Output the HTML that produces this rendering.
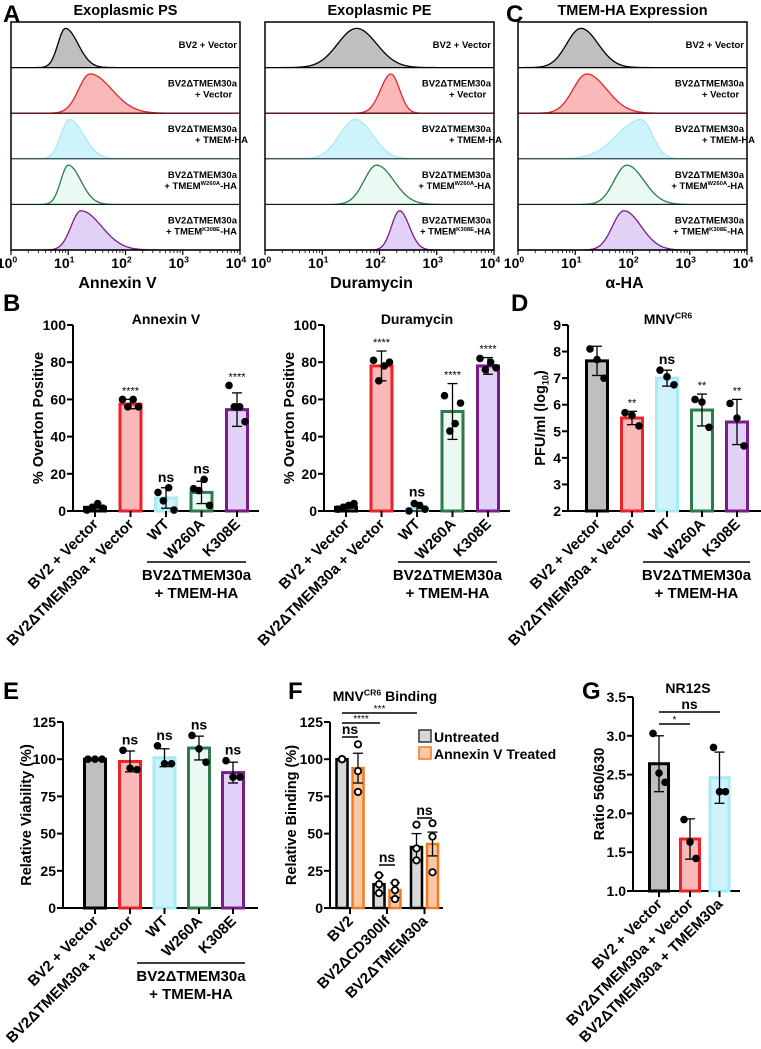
<!DOCTYPE html>
<html><head><meta charset="utf-8"><style>
html,body{margin:0;padding:0;background:#fff;}
svg{display:block;font-family:"Liberation Sans",Arial,sans-serif;font-weight:bold;}
</style></head><body>
<svg id="fig" width="761" height="1049" viewBox="0 0 761 1049" xmlns="http://www.w3.org/2000/svg"></svg>
<script>
// ---------- DATA ----------
const histRowLabels = [["BV2 + Vector"],["BV2\u0394TMEM30a","+ Vector"],["BV2\u0394TMEM30a","+ TMEM-HA"],["BV2\u0394TMEM30a","+ TMEM|W260A|-HA"],["BV2\u0394TMEM30a","+ TMEM|K308E|-HA"]];
const histTitles = ["Exoplasmic PS","Exoplasmic PE","TMEM-HA Expression"];
const histAxisTitles = ["Annexin V","Duramycin","\u03B1-HA"];
const histPS = [[0.95,0.13,0.22],[1.38,0.2,0.38],[1.02,0.15,0.25],[1.0,0.13,0.22],[1.22,0.17,0.36]];
const histPE = [[1.6,0.33,0.35],[2.2,0.18,0.15],[1.58,0.28,0.3],[1.95,0.22,0.3],[2.35,0.14,0.17]];
const histHA = [[1.1,0.25,0.3],[1.2,0.24,0.35],[2.15,0.42,0.2],[1.9,0.22,0.3],[1.85,0.2,0.3]];

const catsMain = ["BV2 + Vector","BV2\u0394TMEM30a + Vector","WT","W260A","K308E"];
const annexMeans = [2,57.5,7,10,54.5];
const annexSD = [1.5,2.5,5.5,6,9];
const annexPts = [[0.5,4,2,1.5],[60,60,56,56],[10,12.5,5.5,0.5],[12,17,11,3],[67.5,56,56,48]];
const annexSig = ["","****","ns","ns","****"];
const duraMeans = [2,78,1.5,53.5,78];
const duraSD = [1.5,8,3,15,4.5];
const duraPts = [[1,3,2,4],[81,78,70,80],[0,3,4,1],[62,47,43,58],[82,80,76,77]];
const duraSig = ["","****","ns","****","****"];
const pfuMeans = [7.65,5.5,7.0,5.8,5.35];
const pfuSD = [0.55,0.25,0.3,0.6,0.85];
const pfuPts = [[8.1,7.7,7.0],[5.7,5.6,5.2],[7.3,7.05,6.75],[6.2,6.1,5.15],[6.05,5.5,4.45]];
const pfuSig = ["","**","ns","**","**"];
const viaMeans = [100,98.5,101,107.5,91];
const viaSD = [0,7,6,8,7];
const viaPts = [[100,100,100],[106,94,93],[109,97,97],[116,107,98],[99,88,88]];
const viaSig = ["","ns","ns","ns","ns"];
const bindCats = ["BV2","BV2\u0394CD300lf","BV2\u0394TMEM30a"];
const bindUntreated = [100,16,41];
const bindUntreatedSD = [0,6,9];
const bindTreated = [94,12,43];
const bindTreatedSD = [10,5,8];
const bindUntreatedPts = [[100,100,100],[22,16,10],[56,40,32]];
const bindTreatedPts = [[110,92,78],[17,12,6],[57,48,24]];
const nrCats = ["BV2 + Vector","BV2\u0394TMEM30a + Vector","BV2\u0394TMEM30a + TMEM30a"];
const nrMeans = [2.64,1.67,2.46];
const nrSD = [0.36,0.26,0.33];
const nrPts = [[3.03,2.52,2.4],[1.92,1.63,1.42],[2.85,2.28,2.28]];

// ---------- HELPERS ----------
const NS="http://www.w3.org/2000/svg";
const svg=document.getElementById('fig');
function el(tag,attrs,parent,txt){const e=document.createElementNS(NS,tag);for(const k in attrs)e.setAttribute(k,attrs[k]);if(txt!==undefined)e.textContent=txt;(parent||svg).appendChild(e);return e;}
function grp(name){const g=el('g',{});return g;}
const COL={gray:['#bfbfbf','#000'],red:['#f9b9b9','#e8242a'],cyan:['#cff3fb','#a6ebf6'],green:['#eafaf2','#2e7a4a'],purple:['#e2d1f7','#7a1b8c'],orange:['#fbc7a5','#f07a22'],lgray:['#d8d8d8','#000']};
const rowCols=['gray','red','cyan','green','purple'];

function panelLetter(t,x,y){const e=el('text',{x:x,y:y,'font-size':24},svg,t);}
function supText(parent,x,y,parts,size,anchor,sub){
  const t=el('text',{x:x,y:y,'font-size':size,'text-anchor':anchor||'start'},parent);
  const p=parts.split('|');
  const sh=sub?size*0.25:-size*0.38;
  p.forEach((s,i)=>{if(!s)return;el('tspan',i%2?{'font-size':size*0.62,dy:sh}:(i>0?{dy:-sh}:{}),t,s);});
  return t;
}

// ---------- PANEL A / C ----------
panelLetter('A',3,22);panelLetter('C',506,22);
const hLeft=[11,265,518], hW=229, hTop=22, rowH=45.6;
const histSets=[histPS,histPE,histHA];
histSets.forEach((set,pi)=>{
  const g=grp('histogram-panel-'+(pi+1));
  const L=hLeft[pi];
  const xs=v=>L+v/4*hW;
  const tt=el('text',{x:L+hW/2,y:15,'font-size':14.5,'text-anchor':'middle'},g,histTitles[pi]);
  
  set.forEach((p,ri)=>{
    const base=hTop+(ri+1)*rowH, c=COL[rowCols[ri]];
    const hgt=rowH*0.86;
    let d='M'+L+','+base;
    for(let px=0;px<=hW;px+=1){const v=px/hW*4;const s=v<p[0]?p[1]:p[2];let y=Math.exp(-0.5*Math.pow((v-p[0])/s,2));d+=' L'+(L+px)+','+(base-y*hgt).toFixed(2);}
    d+=' L'+(L+hW)+','+base+' Z';
    const pa=el('path',{d:d,fill:c[0],stroke:c[1],'stroke-width':1.3},g);
    
    if(ri<4)el('line',{x1:L,x2:L+hW,y1:base,y2:base,stroke:'#000','stroke-width':0.8},g);
    const lab=histRowLabels[ri];
    if(lab.length===1){const t=el('text',{x:L+hW-3,y:hTop+ri*rowH+26,'font-size':9.5,'text-anchor':'end'},g,lab[0]);}
    else{const t=el('text',{x:L+hW-3,y:hTop+ri*rowH+19,'font-size':9.5,'text-anchor':'end'},g,lab[0]);
      const t2=supText(g,L+hW-(ri>=3?3:45),hTop+ri*rowH+30,lab[1],9.5,ri>=3?'end':'start');}
  });
  el('rect',{x:L,y:hTop,width:hW,height:5*rowH,fill:'none',stroke:'#000','stroke-width':1.5},g);
  for(let dec=0;dec<=4;dec++){
    el('line',{x1:xs(dec),x2:xs(dec),y1:hTop+5*rowH,y2:hTop+5*rowH+5,stroke:'#000','stroke-width':1.2},g);
    if(dec<4)for(let k=2;k<10;k++){const xx=xs(dec+Math.log10(k));el('line',{x1:xx,x2:xx,y1:hTop+5*rowH,y2:hTop+5*rowH+3,stroke:'#000','stroke-width':0.8},g);}
    const t=supText(g,xs(dec)-4,hTop+5*rowH+18,'10|'+dec,14,'middle');
  }
  const at=el('text',{x:L+hW/2-8,y:288,'font-size':16,'text-anchor':'middle'},g,histAxisTitles[pi]);
  
});

// ---------- BAR CHART HELPER ----------
function barChart(o){
  const g=grp(o.name);
  const ys=v=>o.y0-(v-o.ymin)/(o.ymax-o.ymin)*(o.y0-o.y1);
  el('line',{x1:o.ax,x2:o.ax,y1:o.y1,y2:o.y0,stroke:'#000','stroke-width':2},g);
  el('line',{x1:o.ax-1,x2:o.axEnd,y1:o.y0,y2:o.y0,stroke:'#000','stroke-width':2},g);
  o.ticks.forEach(tv=>{el('line',{x1:o.ax-6,x2:o.ax,y1:ys(tv),y2:ys(tv),stroke:'#000','stroke-width':2},g);
    const t=el('text',{x:o.ax-7,y:ys(tv)+5,'font-size':14,'text-anchor':'end'},g,o.tickFmt?o.tickFmt(tv):String(tv));});
  const yt=supText(g,0,0,o.ytitle,14.5,'middle',o.ysub);yt.setAttribute('transform','translate('+o.ytx+','+((o.y0+o.y1)/2)+') rotate(-90)');
  
  if(o.title){const t=supText(g,o.titleX,o.titleY,o.title,14,'middle');}
  o.bars.forEach((b,i)=>{
    const c=COL[b.col];const top=ys(b.mean);
    const r=el('rect',{x:b.x-o.bw/2,y:top,width:o.bw,height:o.y0-top,fill:c[0],stroke:c[1],'stroke-width':o.sw||3},g);
    
    if(b.sd>0){const eh=ys(b.mean+b.sd),el2=ys(Math.max(o.ymin,b.mean-b.sd));
      el('line',{x1:b.x,x2:b.x,y1:eh,y2:el2,stroke:'#000','stroke-width':1.3},g);
      el('line',{x1:b.x-5,x2:b.x+5,y1:eh,y2:eh,stroke:'#000','stroke-width':1.3},g);
      el('line',{x1:b.x-5,x2:b.x+5,y1:el2,y2:el2,stroke:'#000','stroke-width':1.3},g);}
    const n=b.pts.length;
    b.pts.forEach((pv,j)=>{const off=n>1?(-o.spread+2*o.spread*j/(n-1)):0;
      const ord=[0,2,1,3];const oj=n===4?(-o.spread+2*o.spread*ord[j]/3):off;
      const cc=el('circle',{cx:b.x+oj,cy:ys(pv),r:o.hollow?3.2:3.8,fill:o.hollow?'#fff':'#000',stroke:'#000','stroke-width':o.hollow?1.8:0},g);
      });
    if(b.sig){const big=b.sig==='ns';const top2=Math.min(ys(b.mean+b.sd),Math.min(...b.pts.map(ys)));
      const t=el('text',{x:b.x,y:top2-(big?6:5),'font-size':big?14:11,'font-weight':big?'bold':'normal','text-anchor':'middle'},g,b.sig);
      }
  });
  (o.ticksX||o.bars.map(b=>b.x)).forEach(x=>el('line',{x1:x,x2:x,y1:o.y0,y2:o.y0+6,stroke:'#000','stroke-width':2},g));
  o.cats.forEach((c,i)=>{const x=o.catX[i];
    const t=el('text',{'font-size':15,'text-anchor':'end',transform:'translate('+(x+4)+','+(o.y0+14)+') rotate(-45)'},g,c);
    });
  if(o.group){const G=o.group;el('line',{x1:G.x1,x2:G.x2,y1:G.y,y2:G.y,stroke:'#000','stroke-width':1.5},g);
    const cx=(G.x1+G.x2)/2;
    const a=el('text',{x:cx,y:G.y+18,'font-size':15,'text-anchor':'middle'},g,'BV2\u0394TMEM30a');
    const b=el('text',{x:cx,y:G.y+36,'font-size':15,'text-anchor':'middle'},g,'+ TMEM-HA');}
  return {g,ys};
}
function mk(xs,means,sds,pts,sig){return xs.map((x,i)=>({x:x,mean:means[i],sd:sds[i],pts:pts[i],sig:sig?sig[i]:'',col:rowCols[i],id:rowCols[i]}));}

panelLetter('B',3,311);panelLetter('D',511,311);panelLetter('E',3,699);panelLetter('F',288,699);panelLetter('G',582,699);

const bAx=[95,130.5,166,201.5,237];
barChart({name:'annexin-bar-chart',ax:73,axEnd:259,y0:511,y1:325,ymin:0,ymax:100,ticks:[0,20,40,60,80,100],bw:21,spread:8,
  ytitle:'% Overton Positive',ytx:43,title:'Annexin V',titleX:166,titleY:324,
  bars:mk(bAx,annexMeans,annexSD,annexPts,annexSig),cats:catsMain,catX:bAx,
  group:{x1:147,x2:246,y:562}});
const dAx=[346,381.5,417,452.5,488];
barChart({name:'duramycin-bar-chart',ax:324,axEnd:510,y0:511,y1:325,ymin:0,ymax:100,ticks:[0,20,40,60,80,100],bw:21,spread:8,
  ytitle:'% Overton Positive',ytx:294,title:'Duramycin',titleX:417,titleY:324,
  bars:mk(dAx,duraMeans,duraSD,duraPts,duraSig),cats:catsMain,catX:dAx,group:{x1:398,x2:497,y:562}});
const pAx=[597,632,667,702,737];
barChart({name:'pfu-bar-chart',ax:568,axEnd:761,y0:511,y1:325,ymin:2,ymax:9,ticks:[2,3,4,5,6,7,8,9],bw:21,spread:7,
  ytitle:'PFU/ml (log|10|)',ysub:true,ytx:545,title:'MNV|CR6',titleX:668,titleY:324,
  bars:mk(pAx,pfuMeans,pfuSD,pfuPts,pfuSig),cats:catsMain,catX:pAx,group:{x1:643,x2:750,y:562}});
const eAx=[95,130,164.5,199,233];
barChart({name:'viability-bar-chart',ax:63,axEnd:258,y0:908,y1:722,ymin:0,ymax:125,ticks:[0,25,50,75,100,125],bw:21,spread:7,
  ytitle:'Relative Viability (%)',ytx:31,
  bars:mk(eAx,viaMeans,viaSD,viaPts,viaSig),cats:catsMain,catX:eAx,group:{x1:137,x2:245,y:963}});
const fGroupX=[350,387,424.5];
const fBars=[];
fGroupX.forEach((x,i)=>{fBars.push({x:x-8,mean:bindUntreated[i],sd:bindUntreatedSD[i],pts:bindUntreatedPts[i],col:'lgray',id:'untreated-'+i});
  fBars.push({x:x+8,mean:bindTreated[i],sd:bindTreatedSD[i],pts:bindTreatedPts[i],col:'orange',id:'treated-'+i});});
const F=barChart({name:'binding-bar-chart',ax:330,axEnd:443,y0:908,y1:722,ymin:0,ymax:125,ticks:[0,25,50,75,100,125],bw:11,spread:0,sw:2.5,hollow:true,
  ytitle:'Relative Binding (%)',ytx:296,title:'MNV|CR6| Binding',titleX:385,titleY:701,
  bars:fBars,ticksX:fGroupX,cats:bindCats,catX:fGroupX});
function sigLine(g,x1,x2,y,txt,big){el('line',{x1:x1,x2:x2,y1:y,y2:y,stroke:'#000','stroke-width':1.5},g);
  const t=el('text',{x:(x1+x2)/2,y:y-(big?3:1),'font-size':big?14:10,'font-weight':big?'bold':'normal','text-anchor':'middle'},g,txt);}
sigLine(F.g,342,417,713,'***',false);sigLine(F.g,342,380,723,'****',false);sigLine(F.g,342,358,737,'ns',true);
sigLine(F.g,379,395,865,'ns',true);sigLine(F.g,417,432,818,'ns',true);
const lg=grp('legend');
[['lgray','Untreated',742],['orange','Annexin V Treated',759]].forEach(([c,t,y])=>{
  const r=el('rect',{x:419,y:y-12,width:12,height:12,fill:COL[c][0],stroke:COL[c][1]==='#000'?'#333':COL[c][1],'stroke-width':1.5},lg);
  
  const tx=el('text',{x:434,y:y,'font-size':14},lg,t);});
const gAx=[659,690,719.5];
const G=barChart({name:'nr12s-bar-chart',ax:633,axEnd:740,y0:891,y1:697,ymin:1,ymax:3.5,ticks:[1,1.5,2,2.5,3,3.5],tickFmt:v=>v.toFixed(1),bw:19,spread:6,
  ytitle:'Ratio 560/630',ytx:604,title:'NR12S',titleX:688,titleY:693,
  bars:nrCats.map((c,i)=>({x:gAx[i],mean:nrMeans[i],sd:nrSD[i],pts:nrPts[i],col:['gray','red','cyan'][i],id:'nr-'+i})),cats:nrCats,catX:gAx});
sigLine(G.g,659,690,724,'*',false);sigLine(G.g,659,720,712,'ns',true);
</script>
</body></html>
